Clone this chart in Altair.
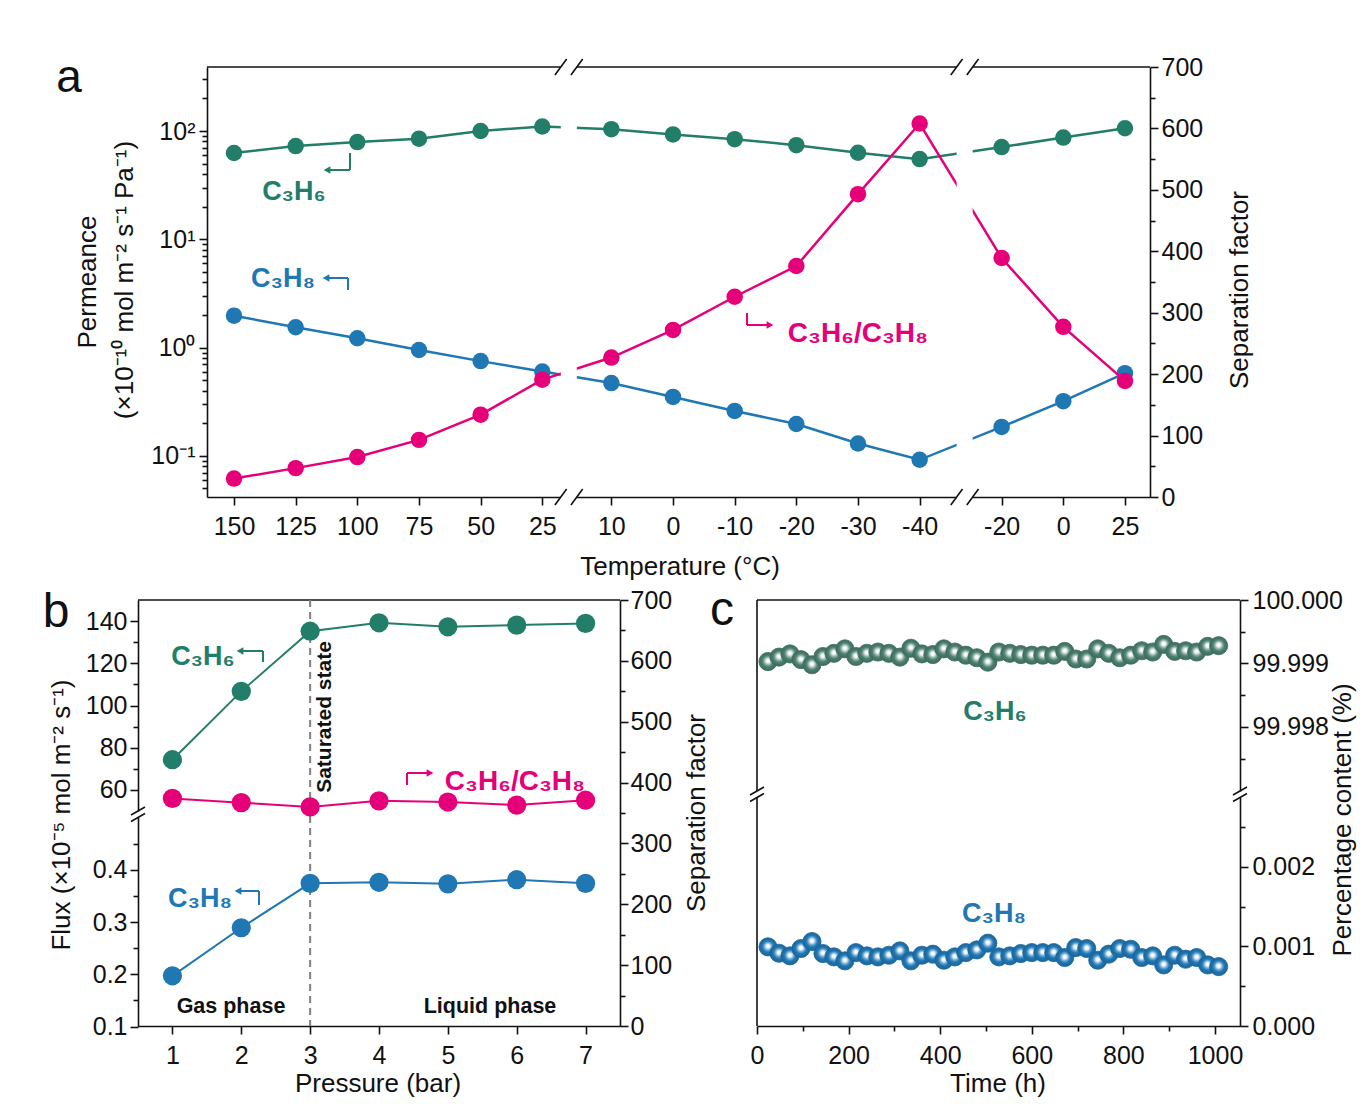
import altair as alt
import pandas as pd

# ---------------- data ----------------
# (a) temperature programme, broken axis: 150 -> 25, 10 -> -40, -20 -> 25 (deg C)
temps_a = [150, 125, 100, 75, 50, 25, 10, 0, -10, -20, -30, -40, -20, 0, 25]
segment_a = [0, 0, 0, 0, 0, 0, 1, 1, 1, 1, 1, 1, 2, 2, 2]
perm_c3h6 = [62.6, 72.6, 79.0, 85.0, 100.0, 110.0, 104.0, 93.0, 84.0, 74.0, 63.0, 55.0, 71.0, 87.0, 106.0]
perm_c3h8 = [1.97, 1.54, 1.22, 0.95, 0.75, 0.60, 0.47, 0.35, 0.26, 0.197, 0.13, 0.092, 0.185, 0.32, 0.58]
sf_temp = [30, 47, 65, 93, 134, 191, 227, 272, 326, 376, 493, 608, 389, 277, 189]

# (b) feed pressure
pressure = [1, 2, 3, 4, 5, 6, 7]
flux_c3h6 = [74.3, 106.7, 135.2, 139.2, 137.3, 138.1, 138.9]
flux_c3h8 = [0.197, 0.289, 0.374, 0.376, 0.373, 0.381, 0.374]
sf_pressure = [374, 367, 360, 370, 368, 363, 371]
saturation_pressure = [3]

# (c) long-term run
hours = [24, 48, 72, 96, 120, 144, 168, 192, 216, 240, 264, 288, 312, 336, 360, 384,
         408, 432, 456, 480, 504, 528, 552, 576, 600, 624, 648, 672, 696, 720, 744,
         768, 792, 816, 840, 864, 888, 912, 936, 960, 984, 1008]
purity_c3h6 = [99.99903, 99.99910, 99.99915, 99.99906, 99.99898, 99.99911, 99.99916, 99.99923,
               99.99911, 99.99916, 99.99918, 99.99916, 99.99910, 99.99924, 99.99915, 99.99914,
               99.99923, 99.99918, 99.99913, 99.99909, 99.99902, 99.99918, 99.99916, 99.99914,
               99.99913, 99.99913, 99.99913, 99.99919, 99.99907, 99.99907, 99.99923, 99.99916,
               99.99909, 99.99913, 99.99920, 99.99918, 99.99930, 99.99919, 99.99920, 99.99918,
               99.99927, 99.99928]
content_c3h8 = [0.000994, 0.000914, 0.000881, 0.000973, 0.001061, 0.000910, 0.000868, 0.000818,
                0.000922, 0.000881, 0.000868, 0.000889, 0.000943, 0.000818, 0.000889, 0.000902,
                0.000826, 0.000868, 0.000922, 0.000956, 0.001040, 0.000868, 0.000881, 0.000910,
                0.000922, 0.000922, 0.000922, 0.000860, 0.000985, 0.000973, 0.000826, 0.000902,
                0.000973, 0.000964, 0.000860, 0.000881, 0.000767, 0.000889, 0.000839, 0.000860,
                0.000767, 0.000746]

# ---------------- style / layout ----------------
W, H = 1350, 1091
FONT = "Liberation Sans"
INK = "#111111"
GREEN = "#237E69"
BLUE = "#1F77B4"
PINK = "#E5007A"
TICK_LBL = 25
TITLE = 26


def major_minor(test, big=8, small=5):
    return {"condition": {"test": test, "value": big}, "value": small}


def sc(domain, rng):
    return alt.Scale(domain=domain, range=rng, nice=False, zero=False)


def one(**cols):
    return alt.Chart(pd.DataFrame({k: [v] for k, v in cols.items()}))


def text(t, x, y, size, color=INK, weight="normal", angle=0, baseline="alphabetic", font=FONT):
    kw = dict(fontSize=size, color=color, fontWeight=weight, font=font,
              align="center", baseline=baseline)
    if angle:
        kw["angle"] = angle
    return one(t=t).mark_text(**kw).encode(x=alt.value(x), y=alt.value(y), text="t:N")


def seg(x0, y0, x1, y1, color=INK, width=1.6):
    return one(v=0).mark_rule(color=color, strokeWidth=width).encode(
        x=alt.value(x0), x2=alt.value(x1), y=alt.value(y0), y2=alt.value(y1))


def hline(x0, x1, y):
    return seg(x0, y, x1, y)


def vline(x, y0, y1):
    return seg(x, y0, x, y1)


def slash(x, y, dx=7, dy=4):
    return seg(x - dx, y + dy, x + dx, y - dy)


def bent_arrow(corner_x, stem_y0, bar_y, tip_x, color):
    """vertical stem at corner_x from stem_y0 to bar_y, then horizontal bar to tip_x."""
    d = -1 if tip_x < corner_x else 1
    shape = "triangle-left" if d < 0 else "triangle-right"
    return [
        seg(corner_x, stem_y0, corner_x, bar_y, color, 2),
        seg(corner_x, bar_y, tip_x - d * 4, bar_y, color, 2),
        one(v=0).mark_point(shape=shape, filled=True, size=60, color=color, opacity=1).encode(
            x=alt.value(tip_x - d * 3), y=alt.value(bar_y)),
    ]


L = []

# ======================= panel a =======================
AX = (199, 1142)
AY = (59, 489)
seg_shift = [0.0, 0.12, 0.45]
pos_a = [round(i + seg_shift[s], 3) for i, s in enumerate(segment_a)]
breaks_a = [5.43, 11.85]

xa = sc([-0.438, 14.856], [AX[0], AX[1]])
ya_log = alt.Scale(type="log", domain=[0.0417, 390], range=[AY[1], AY[0]], nice=False)
ya_sf = sc([0, 700], [AY[1], AY[0]])

lbl_js = ",".join("'%s'" % t for t in temps_a)
val_js = ",".join(repr(p) for p in pos_a)
ax_a_bottom = alt.Axis(orient="bottom", offset=AY[1] - H, values=pos_a,
                       labelExpr="[%s][indexof([%s], datum.value)]" % (lbl_js, val_js),
                       tickSize=8, labelPadding=9, title=None, labelFlush=False,
                       labelOverlap=False, grid=False)

log_ticks = []
for e in [-2, -1, 0, 1, 2]:
    for m in range(1, 10):
        v = round(m * 10.0 ** e, 6)
        if 0.0417 <= v <= 390:
            log_ticks.append(v)
ax_a_left = alt.Axis(orient="left", offset=-AX[0], values=log_ticks,
                     labelExpr="datum.value === 100 ? '10²' : datum.value === 10 ? '10¹' : "
                               "datum.value === 1 ? '10⁰' : datum.value === 0.1 ? '10⁻¹' : ''",
                     tickSize=major_minor("indexof([0.1, 1, 10, 100], datum.value) >= 0"),
                     labelPadding=4, title=None, labelOverlap=False, grid=False)
ax_a_right = alt.Axis(orient="right", offset=AX[1] - W, values=list(range(0, 701, 50)),
                      labelExpr="datum.value % 100 === 0 ? datum.label : ''",
                      tickSize=major_minor("datum.value % 100 === 0"),
                      labelPadding=3, title=None, labelOverlap=False, grid=False)

dfa = pd.DataFrame({"temp": temps_a, "pos": pos_a, "c3h6": perm_c3h6,
                    "c3h8": perm_c3h8, "sf": sf_temp})
ca = alt.Chart(dfa)
xa_n = alt.X("pos:Q", scale=xa, axis=None)

L.append(hline(AX[0], AX[1], AY[0]))
L.append(ca.mark_line(color=GREEN, strokeWidth=2.5).encode(
    x=alt.X("pos:Q", scale=xa, axis=ax_a_bottom),
    y=alt.Y("c3h6:Q", scale=ya_log, axis=ax_a_left)))
L.append(ca.mark_circle(color=GREEN, size=272, opacity=1).encode(
    x=xa_n, y=alt.Y("c3h6:Q", scale=ya_log, axis=None)))
L.append(ca.mark_line(color=BLUE, strokeWidth=2.5).encode(
    x=xa_n, y=alt.Y("c3h8:Q", scale=ya_log, axis=None)))
L.append(ca.mark_circle(color=BLUE, size=272, opacity=1).encode(
    x=xa_n, y=alt.Y("c3h8:Q", scale=ya_log, axis=None)))
L.append(ca.mark_line(color=PINK, strokeWidth=2.5).encode(
    x=xa_n, y=alt.Y("sf:Q", scale=ya_sf, axis=ax_a_right)))
L.append(ca.mark_circle(color=PINK, size=272, opacity=1).encode(
    x=xa_n, y=alt.Y("sf:Q", scale=ya_sf, axis=None)))

# axis breaks (white gap + slashes)
dfb = pd.DataFrame({"brk": breaks_a})
L.append(alt.Chart(dfb).transform_calculate(b0="datum.brk - 0.13", b1="datum.brk + 0.13")
         .mark_rect(color="white").encode(
    x=alt.X("b0:Q", scale=xa, axis=None), x2="b1:Q",
    y=alt.value(AY[0] - 3), y2=alt.value(AY[1] + 2)))
dfs = pd.DataFrame({"c": [b + s * 0.13 for b in breaks_a for s in (-1, 1)]})
for yy in (AY[0], AY[1]):
    L.append(alt.Chart(dfs).transform_calculate(s0="datum.c - 0.095", s1="datum.c + 0.095")
             .mark_rule(color=INK, strokeWidth=1.6).encode(
        x=alt.X("s0:Q", scale=xa, axis=None), x2="s1:Q",
        y=alt.value(yy + 8), y2=alt.value(yy - 8)))

L += [
    text("a", 61, 84, 46),
    text("Permeance", 80, 274, TITLE, angle=270, baseline="middle"),
    text("(×10⁻¹⁰ mol m⁻² s⁻¹ Pa⁻¹)", 117, 272, TITLE, angle=270, baseline="middle"),
    text("Separation factor", 1232, 282, TITLE, angle=270, baseline="middle"),
    text("Temperature (°C)", 672, 567, TITLE),
    text("C₃H₆", 286, 192, 27, GREEN, "bold"),
    text("C₃H₈", 275, 279, 27, BLUE, "bold"),
    text("C₃H₆/C₃H₈", 850, 334, 28, PINK, "bold"),
]
L += bent_arrow(342, 145, 162, 316, GREEN)
L += bent_arrow(340, 282, 270, 315, BLUE)
L += bent_arrow(739, 305, 317, 765, PINK)

# ======================= panel b =======================
BX = (130, 612)
BY = (592, 1018)
xb = sc([0.5, 7.5], [BX[0], BX[1]])
yb_top = sc([50, 150], [803, BY[0]])
yb_bot = sc([0.1, 0.5], [1018.5, 809.5])
yb_sf = sc([0, 700], [BY[1], BY[0]])

ax_b_bottom = alt.Axis(orient="bottom", offset=BY[1] - H, values=pressure, format="d",
                       tickSize=8, labelPadding=9, title=None, labelFlush=False, grid=False)
ax_b_top = alt.Axis(orient="left", offset=-BX[0], values=list(range(60, 141, 10)),
                    labelExpr="datum.value % 20 === 0 ? datum.label : ''",
                    tickSize=major_minor("datum.value % 20 === 0"),
                    labelPadding=3, title=None, labelOverlap=False, grid=False)
ax_b_bot = alt.Axis(orient="left", offset=-BX[0],
                    values=[0.1, 0.15, 0.2, 0.25, 0.3, 0.35, 0.4, 0.45],
                    labelExpr="indexof([0.1, 0.2, 0.3, 0.4], datum.value) >= 0 ? format(datum.value, '.1f') : ''",
                    tickSize=major_minor("indexof([0.1, 0.2, 0.3, 0.4], datum.value) >= 0"),
                    labelPadding=3, title=None, labelOverlap=False, grid=False)
ax_b_right = alt.Axis(orient="right", offset=BX[1] - W, values=list(range(0, 701, 50)),
                      labelExpr="datum.value % 100 === 0 ? datum.label : ''",
                      tickSize=major_minor("datum.value % 100 === 0"),
                      labelPadding=2, title=None, labelOverlap=False, grid=False)

dfb2 = pd.DataFrame({"p": pressure, "c3h6": flux_c3h6, "c3h8": flux_c3h8, "sf": sf_pressure})
cb = alt.Chart(dfb2)
xb_n = alt.X("p:Q", scale=xb, axis=None)

L.append(hline(BX[0], BX[1], BY[0]))
L.append(alt.Chart(pd.DataFrame({"p": saturation_pressure}))
         .mark_rule(color="#808080", strokeWidth=2, strokeDash=[7, 5]).encode(
    x=xb_n, y=alt.value(BY[0]), y2=alt.value(BY[1])))
L.append(cb.mark_line(color=GREEN, strokeWidth=2).encode(
    x=alt.X("p:Q", scale=xb, axis=ax_b_bottom),
    y=alt.Y("c3h6:Q", scale=yb_top, axis=ax_b_top)))
L.append(cb.mark_circle(color=GREEN, size=370, opacity=1).encode(
    x=xb_n, y=alt.Y("c3h6:Q", scale=yb_top, axis=None)))
L.append(cb.mark_line(color=BLUE, strokeWidth=2).encode(
    x=xb_n, y=alt.Y("c3h8:Q", scale=yb_bot, axis=ax_b_bot)))
L.append(cb.mark_circle(color=BLUE, size=370, opacity=1).encode(
    x=xb_n, y=alt.Y("c3h8:Q", scale=yb_bot, axis=None)))
L.append(cb.mark_line(color=PINK, strokeWidth=2).encode(
    x=xb_n, y=alt.Y("sf:Q", scale=yb_sf, axis=ax_b_right)))
L.append(cb.mark_circle(color=PINK, size=370, opacity=1).encode(
    x=xb_n, y=alt.Y("sf:Q", scale=yb_sf, axis=None)))
L += [slash(BX[0], 803), slash(BX[0], 809.5)]

L += [
    text("b", 48, 619, 48),
    text("Flux (×10⁻⁵ mol m⁻² s⁻¹)", 54, 807, TITLE, angle=270, baseline="middle"),
    text("Separation factor", 689, 805, TITLE, angle=270, baseline="middle"),
    text("Pressure (bar)", 370, 1084, TITLE),
    text("C₃H₆", 195, 657, 27, GREEN, "bold"),
    text("C₃H₆/C₃H₈", 507, 782, 28, PINK, "bold"),
    text("C₃H₈", 192, 899, 27, BLUE, "bold"),
    text("Saturated state", 317, 709, 21, weight="bold", angle=270, baseline="middle"),
    text("Gas phase", 223, 1005, 21.5, weight="bold"),
    text("Liquid phase", 482, 1005, 21.5, weight="bold"),
]
L += bent_arrow(255, 654, 643, 229, GREEN)
L += bent_arrow(399, 777, 765, 425, PINK)
L += bent_arrow(251, 897, 883, 227, BLUE)

# ======================= panel c =======================
CX = (749, 1232)
CY = (592, 1018)
xc = sc([0, 1054.6], [CX[0], CX[1]])
yc_top = sc([99.99699, 100.0], [783, CY[0]])
yc_bot = sc([0, 0.00287], [CY[1], 789.5])
MAJ3 = "abs(datum.value * 1000 - round(datum.value * 1000)) < 1e-6"

ax_c_bottom = alt.Axis(orient="bottom", offset=CY[1] - H, values=list(range(0, 1001, 100)),
                       format="d",
                       labelExpr="datum.value % 200 === 0 ? datum.label : ''",
                       tickSize=major_minor("datum.value % 200 === 0"),
                       labelPadding=9, title=None, labelFlush=False, labelOverlap=False, grid=False)
ax_c_top = alt.Axis(orient="right", offset=CX[1] - W,
                    values=[99.9975, 99.998, 99.9985, 99.999, 99.9995, 100.0],
                    labelExpr=MAJ3 + " ? format(datum.value, '.3f') : ''",
                    tickSize=major_minor(MAJ3), labelPadding=4, title=None,
                    labelOverlap=False, grid=False)
ax_c_bot = alt.Axis(orient="right", offset=CX[1] - W,
                    values=[0, 0.0005, 0.001, 0.0015, 0.002, 0.0025],
                    labelExpr=MAJ3 + " ? format(datum.value, '.3f') : ''",
                    tickSize=major_minor(MAJ3), labelPadding=4, title=None,
                    labelOverlap=False, grid=False)


def sphere(base, light, edge):
    return {"gradient": "radial", "x1": 0.5, "y1": 0.45, "r1": 0.0,
            "x2": 0.5, "y2": 0.5, "r2": 0.5,
            "stops": [{"offset": 0.0, "color": "#ffffff"},
                      {"offset": 0.2, "color": "#f2f6f8"},
                      {"offset": 0.38, "color": light},
                      {"offset": 0.62, "color": base},
                      {"offset": 1.0, "color": edge}]}


dfc = pd.DataFrame({"h": hours, "c3h6": purity_c3h6, "c3h8": content_c3h8})
cc = alt.Chart(dfc)
L.append(hline(CX[0], CX[1], CY[0]))
L += [vline(CX[0], CY[0], 783), vline(CX[0], 789.5, CY[1])]
L.append(cc.mark_circle(size=330, opacity=1, fill=sphere("#4C8070", "#9fbdb3", "#3d6b5d"),
                        stroke="#3d6b5d", strokeWidth=0.8).encode(
    x=alt.X("h:Q", scale=xc, axis=ax_c_bottom),
    y=alt.Y("c3h6:Q", scale=yc_top, axis=ax_c_top)))
L.append(cc.mark_circle(size=330, opacity=1, fill=sphere("#2077B2", "#7db4dc", "#1a659a"),
                        stroke="#1a659a", strokeWidth=0.8).encode(
    x=alt.X("h:Q", scale=xc, axis=None),
    y=alt.Y("c3h8:Q", scale=yc_bot, axis=ax_c_bot)))
L += [slash(CX[0], 783), slash(CX[0], 789.5), slash(CX[1], 783), slash(CX[1], 789.5)]
L += [
    text("c", 714, 617, 48),
    text("Time (h)", 990, 1084, TITLE),
    text("Percentage content (%)", 1335, 812, TITLE, angle=270, baseline="middle"),
    text("C₃H₆", 987, 712, 27, GREEN, "bold"),
    text("C₃H₈", 986, 914, 27, BLUE, "bold"),
]

chart = (
    alt.layer(*L)
    .resolve_scale(x="independent", y="independent")
    .properties(width=W, height=H, autosize=alt.AutoSizeParams(type="none"),
                padding=0, background="white")
    .configure_view(strokeWidth=0)
    .configure_axis(labelFont=FONT, labelFontSize=TICK_LBL, labelColor=INK,
                    domainColor=INK, domainWidth=1.6, tickColor=INK, tickWidth=1.6,
                    grid=False)
)

chart.save("out.html", embed_options={"renderer": "svg", "actions": False})
